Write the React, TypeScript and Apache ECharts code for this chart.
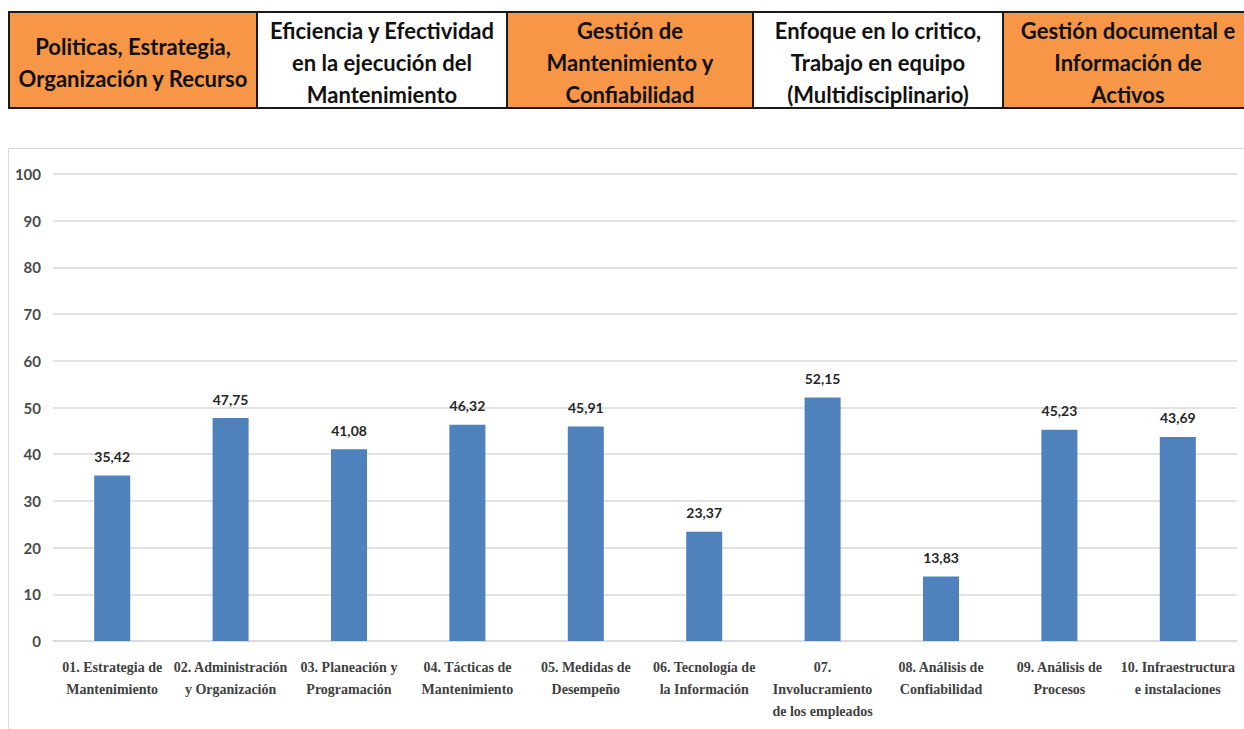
import React, { useEffect, useRef } from "react";
import * as echarts from "echarts";

const categories = [
  "01. Estrategia de\nMantenimiento",
  "02. Administración\ny Organización",
  "03. Planeación y\nProgramación",
  "04. Tácticas de\nMantenimiento",
  "05. Medidas de\nDesempeño",
  "06. Tecnología de\nla Información",
  "07.\nInvolucramiento\nde los empleados",
  "08. Análisis de\nConfiabilidad",
  "09. Análisis de\nProcesos",
  "10. Infraestructura\ne instalaciones",
];
const values = [35.42, 47.75, 41.08, 46.32, 45.91, 23.37, 52.15, 13.83, 45.23, 43.69];

const headerTexts = [
  "Politicas, Estrategia,\nOrganización y Recurso",
  "Eficiencia y Efectividad\nen la ejecución del\nMantenimiento",
  "Gestión de\nMantenimiento y\nConfiabilidad",
  "Enfoque en lo critico,\nTrabajo en equipo\n(Multidisciplinario)",
  "Gestión documental e\nInformación de\nActivos",
];
const headerFills = ["#F79646", "#FFFFFF", "#F79646", "#FFFFFF", "#F79646"];
const headerEdges = [9, 257, 507, 753, 1003, 1253];

export default function App() {
  const ref = useRef<HTMLDivElement>(null);
  useEffect(() => {
    const chart = echarts.init(ref.current!, null, { renderer: "svg" });
    const graphics: any[] = [];
    graphics.push({
      type: "rect",
      shape: { x: 8.5, y: 148.5, width: 1250, height: 600 },
      style: { fill: "#fff", stroke: "#D9D9D9", lineWidth: 1 },
      z: -10,
    });
    for (let i = 0; i < headerTexts.length; i++) {
      const x0 = headerEdges[i];
      const x1 = headerEdges[i + 1];
      graphics.push({
        type: "rect",
        shape: { x: x0, y: 12, width: x1 - x0, height: 96 },
        style: { fill: headerFills[i], stroke: "#1a1a1a", lineWidth: 2 },
      });
      graphics.push({
        type: "text",
        x: (x0 + x1) / 2,
        y: 62,
        style: {
          text: headerTexts[i],
          fill: "#111",
          font: "bold 22px Lato",
          align: "center",
          verticalAlign: "middle",
          lineHeight: 32,
        },
      });
    }
    chart.setOption({
      animation: false,
      graphic: graphics,
      grid: { left: 53, right: 7, top: 174, bottom: 88, containLabel: false },
      xAxis: {
        type: "category",
        data: categories,
        axisLine: { lineStyle: { color: "#D9D9D9", width: 1.5 } },
        axisTick: { show: false },
        axisLabel: {
          interval: 0,
          margin: 15,
          fontFamily: "Liberation Serif",
          fontWeight: "bold",
          fontSize: 14,
          color: "#404040",
          lineHeight: 22,
        },
      },
      yAxis: {
        type: "value",
        min: 0,
        max: 100,
        interval: 10,
        axisLine: { show: false },
        axisTick: { show: false },
        splitLine: { lineStyle: { color: "#D9D9D9", width: 1.5 } },
        axisLabel: {
          margin: 12,
          fontFamily: "Lato",
          fontWeight: "bold",
          fontSize: 15,
          color: "#4a4a4a",
        },
      },
      series: [
        {
          type: "bar",
          data: values,
          barWidth: 36,
          itemStyle: { color: "#4F81BD" },
          label: {
            show: true,
            position: "top",
            distance: 12,
            fontFamily: "Lato",
            fontWeight: "bold",
            fontSize: 14,
            color: "#262626",
            formatter: (p: any) => p.value.toFixed(2).replace(".", ","),
          },
        },
      ],
    });
    return () => chart.dispose();
  }, []);
  return (
    <div
      ref={ref}
      style={{ position: "fixed", left: 0, top: 0, width: 1244, height: 729, background: "#fff" }}
    />
  );
}
